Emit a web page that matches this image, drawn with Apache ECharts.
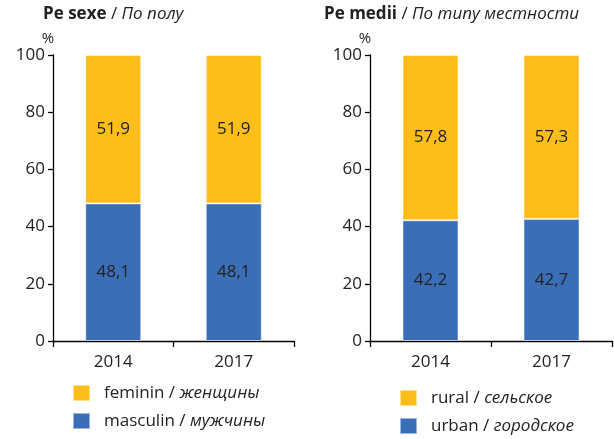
<!DOCTYPE html>
<html>
<head>
<meta charset="utf-8">
<script src="https://cdn.jsdelivr.net/npm/echarts@6/dist/echarts.min.js"></script>
<style>
  html, body { margin: 0; padding: 0; background: #fff; }
  #main { width: 614px; height: 439px; }
</style>
</head>
<body>
<div id="main"></div>
<script>
// data
var years = ['2014', '2017'];
var feminin = [51.9, 51.9];
var masculin = [48.1, 48.1];
var rural = [57.8, 57.3];
var urban = [42.2, 42.7];
var yTicks = [0, 20, 40, 60, 80, 100];

var YELLOW = '#FDBE19';
var BLUE = '#3A6EB6';
var TXT = '#222';
var FONT = '"Open Sans", "Noto Sans", sans-serif';

var myChart = echarts.init(document.getElementById('main'));

function comma(p) {
    return String(p.value.toFixed(1)).replace('.', ',');
}

function yAxis(idx) {
    return {
        gridIndex: idx,
        type: 'value',
        min: yTicks[0],
        max: yTicks[yTicks.length - 1],
        interval: 20,
        name: '%',
        nameLocation: 'end',
        nameGap: 8,
        nameTextStyle: { color: TXT, fontSize: 15, fontFamily: FONT, padding: [0, 10, 0, 0] },
        axisLine: { show: true, lineStyle: { color: '#000', width: 1.3 } },
        axisTick: { show: true, inside: false, length: 5, lineStyle: { color: '#000', width: 1.3 } },
        axisLabel: { color: TXT, fontSize: 17, fontFamily: FONT, margin: 8 },
        splitLine: { show: false }
    };
}

function xAxis(idx) {
    return {
        gridIndex: idx,
        type: 'category',
        data: years,
        axisLine: { lineStyle: { color: '#000', width: 1.3 } },
        axisTick: { show: true, length: 6, alignWithLabel: false, lineStyle: { color: '#000', width: 1.3 } },
        axisLabel: { color: TXT, fontSize: 17, fontFamily: FONT, margin: 13 }
    };
}

function bar(name, data, color, idx) {
    return {
        name: name,
        type: 'bar',
        stack: 's' + idx,
        xAxisIndex: idx,
        yAxisIndex: idx,
        data: data,
        barWidth: 56,
        itemStyle: { color: color, borderColor: 'rgba(255,255,255,0.5)', borderWidth: 1 },
        label: {
            show: true,
            position: 'inside',
            formatter: comma,
            color: TXT,
            fontSize: 17,
            fontFamily: FONT
        }
    };
}

var legendRich = {
    a: { fontSize: 17, fontFamily: FONT, color: TXT },
    b: { fontSize: 17, fontFamily: FONT, color: TXT, fontStyle: 'italic' }
};
var legendText = {
    'feminin': '{a|feminin / }{b|женщины}',
    'masculin': '{a|masculin / }{b|мужчины}',
    'rural': '{a|rural / }{b|сельское}',
    'urban': '{a|urban / }{b|городское}'
};

var titleRich = {
    a: { fontSize: 17, fontWeight: 'bold', fontFamily: FONT, color: TXT },
    b: { fontSize: 17, fontWeight: 'normal', fontFamily: FONT, color: TXT },
    c: { fontSize: 17, fontWeight: 'normal', fontStyle: 'italic', fontFamily: FONT, color: TXT }
};

var option = {
    animation: false,
    title: [
        { text: '{a|Pe sexe}{b| / }{c|По полу}', left: 38, top: 1, textStyle: { fontWeight: 'normal', rich: titleRich } },
        { text: '{a|Pe medii}{b| / }{c|По типу местности}', left: 319, top: 1, textStyle: { fontWeight: 'normal', rich: titleRich } }
    ],
    grid: [
        { left: 53, right: 320, top: 55, bottom: 98 },
        { left: 370, right: 2, top: 55, bottom: 98 }
    ],
    xAxis: [xAxis(0), xAxis(1)],
    yAxis: [yAxis(0), yAxis(1)],
    legend: [
        {
            data: ['feminin', 'masculin'],
            orient: 'vertical',
            left: 72, top: 384, padding: 0,
            itemWidth: 17, itemHeight: 16, itemGap: 10,
            icon: 'rect',
            formatter: function (n) { return legendText[n]; },
            textStyle: { rich: legendRich, padding: [0, 0, 0, 9] }
        },
        {
            data: ['rural', 'urban'],
            orient: 'vertical',
            left: 399, top: 389, padding: 0,
            itemWidth: 17, itemHeight: 16, itemGap: 10,
            icon: 'rect',
            formatter: function (n) { return legendText[n]; },
            textStyle: { rich: legendRich, padding: [0, 0, 0, 9] }
        }
    ],
    series: [
        bar('masculin', masculin, BLUE, 0),
        bar('feminin', feminin, YELLOW, 0),
        bar('urban', urban, BLUE, 1),
        bar('rural', rural, YELLOW, 1)
    ]
};

myChart.setOption(option);
</script>
</body>
</html>
